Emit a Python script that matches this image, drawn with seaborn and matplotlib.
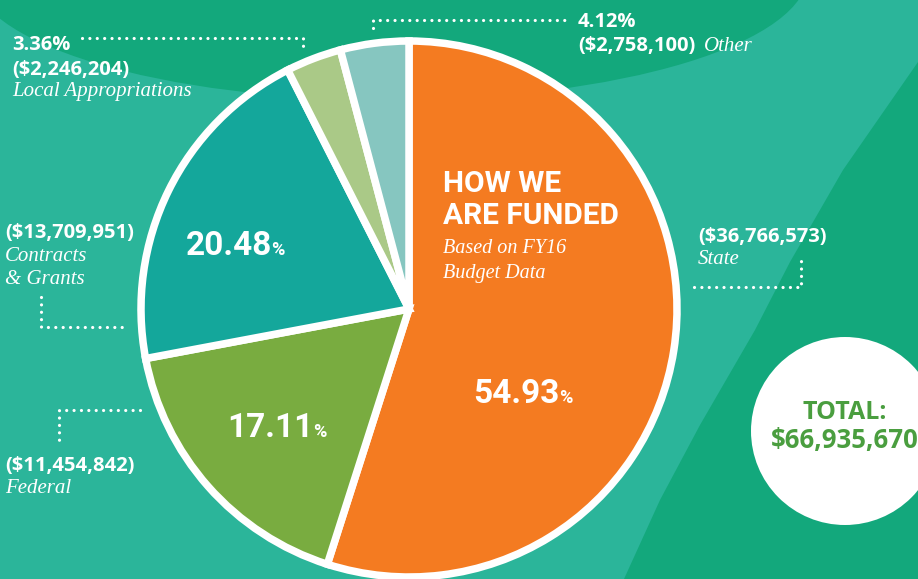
import matplotlib
matplotlib.use("Agg")
import matplotlib.pyplot as plt
from matplotlib.patches import Ellipse, Polygon, Circle
import seaborn as sns

sns.set_theme(style="white")

# ---- data ----
categories = ["State", "Federal", "Contracts & Grants", "Local Appropriations", "Other"]
amounts = [36766573, 11454842, 13709951, 2246204, 2758100]
percents = [54.93, 17.11, 20.48, 3.36, 4.12]
total = 66935670
colors = sns.color_palette(["#F47B21", "#79AC40", "#14A79B", "#AAC987", "#86C6C0"])

BG_LIGHT = "#2BB59A"
BG_DARK = "#13A87C"
COND = ["Liberation Sans Narrow", "Roboto", "DejaVu Sans"]
SANS = ["Open Sans", "DejaVu Sans"]
SERIF = ["Liberation Serif", "DejaVu Serif"]

fig = plt.figure(figsize=(9.18, 5.79), dpi=100)
fig.patch.set_facecolor(BG_LIGHT)
ax = fig.add_axes([0, 0, 1, 1])
ax.set_facecolor(BG_LIGHT)

# background shapes
ax.add_patch(Ellipse((390, -27), 836, 254, color=BG_DARK, zorder=0, lw=0))
ax.add_patch(Polygon([(918, 62), (843, 170), (790, 262), (755, 330), (700, 425),
                      (660, 500), (624, 579), (918, 579)],
                     closed=True, color=BG_DARK, zorder=0, lw=0))

# pie
cx, cy, R = 409, 309, 268
ax.pie(amounts, colors=colors, startangle=-90, counterclock=True,
       center=(cx, cy), radius=R, frame=True,
       wedgeprops=dict(edgecolor="white", linewidth=5.4, zorder=2))

ax.set_xlim(0, 918)
ax.set_ylim(579, 0)
ax.set_aspect("equal")
ax.axis("off")

# title inside orange slice
ax.text(443, 192, "HOW WE", color="white", fontsize=21.5, fontweight="bold",
        family=COND, va="baseline", ha="left", zorder=5)
ax.text(443, 224, "ARE FUNDED", color="white", fontsize=21.5, fontweight="bold",
        family=COND, va="baseline", ha="left", zorder=5)
ax.text(443, 253, "Based on FY16", color="white", fontsize=14.5, style="italic",
        family=SERIF, va="baseline", ha="left", zorder=5)
ax.text(443, 278, "Budget Data", color="white", fontsize=14.5, style="italic",
        family=SERIF, va="baseline", ha="left", zorder=5)

# percentages in slices
pct_pos = {0: (560, 403), 1: (314, 437), 2: (272, 255)}
for i, (x, y) in pct_pos.items():
    ax.text(x, y, f"{percents[i]:.2f}", color="white", fontsize=24, fontweight="bold",
            family=COND, ha="right", va="baseline", zorder=5)
    ax.text(x - 1, y, "%", color="white", fontsize=13, fontweight="bold",
            family=COND, ha="left", va="baseline", zorder=5)

def money(v):
    return f"(${v:,})"

lab = dict(color="white", fontsize=14.5, fontweight="bold", family=SANS,
           va="baseline", ha="left", zorder=5)
ital = dict(color="white", fontsize=15, style="italic", family=SERIF,
            va="baseline", ha="left", zorder=5)

# Local Appropriations
ax.text(12, 50, f"{percents[3]:.2f}%", **lab)
ax.text(12, 75, money(amounts[3]), **lab)
ax.text(12, 96, categories[3], **ital)
# Other
ax.text(578, 27, f"{percents[4]:.2f}%", **lab)
ax.text(578, 51, money(amounts[4]), **lab)
ax.text(704, 51, categories[4], **ital)
# Contracts & Grants
ax.text(5, 238, money(amounts[2]), **lab)
ax.text(5, 261, "Contracts", **ital)
ax.text(5, 284, "& Grants", **ital)
# Federal
ax.text(5, 471, money(amounts[1]), **lab)
ax.text(5, 493, categories[1], **ital)
# State
ax.text(698, 242, money(amounts[0]), **lab)
ax.text(698, 264, categories[0], **ital)

# dotted leaders
dot = dict(color="white", linewidth=2.3, linestyle=(0, (0.01, 2.3)),
           dash_capstyle="round", solid_capstyle="round", zorder=4)
ax.plot([82, 303, 303], [38, 38, 47], **dot)
ax.plot([373, 373, 570], [28, 20, 20], **dot)
ax.plot([41, 41, 122], [297, 327, 327], **dot)
ax.plot([140, 59, 59], [410, 410, 442], **dot)
ax.plot([694, 801, 801], [287, 287, 255], **dot)

# total bubble
ax.add_patch(Circle((845, 431), 94, color="white", zorder=3, lw=0))
ax.text(845, 419, "TOTAL:", color="#4A9E3F", fontsize=18, fontweight="bold",
        family=SANS, ha="center", va="baseline", zorder=5)
ax.text(845, 448, f"${total:,}", color="#4A9E3F", fontsize=18.5, fontweight="bold",
        family=SANS, ha="center", va="baseline", zorder=5)

fig.savefig("out.png", dpi=100, facecolor=BG_LIGHT)
